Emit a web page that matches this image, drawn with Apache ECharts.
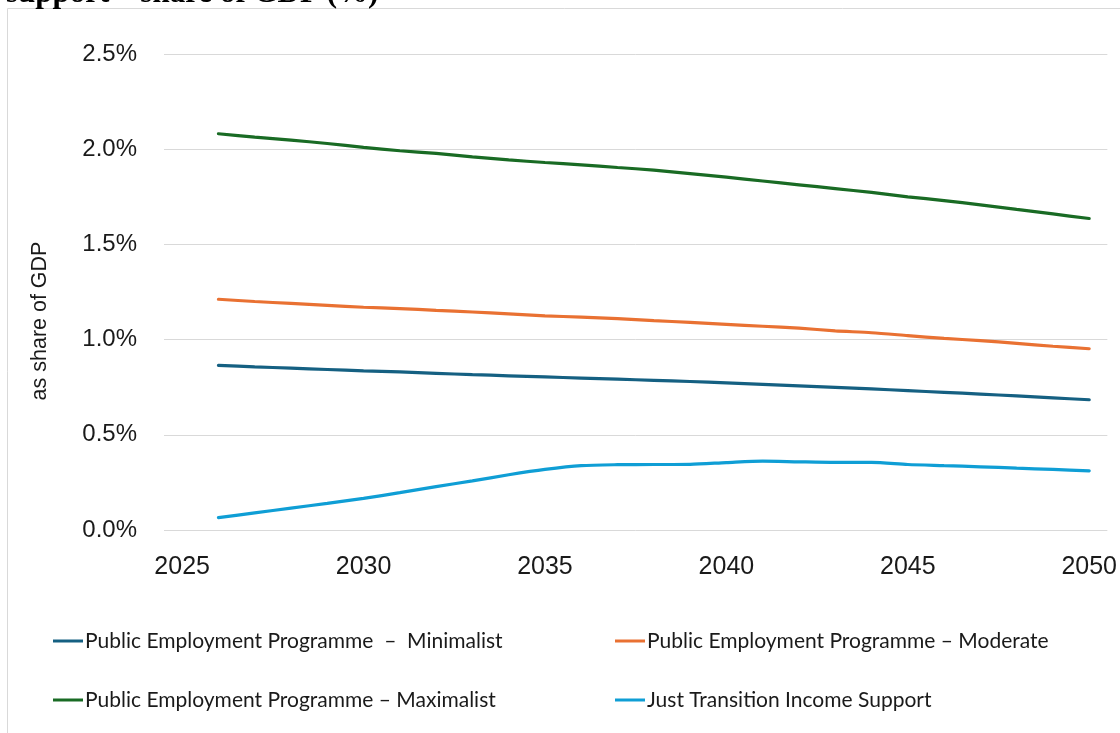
<!DOCTYPE html>
<html>
<head>
<meta charset="utf-8">
<style>
  html, body { margin: 0; padding: 0; background: #ffffff; }
  #chart { width: 1120px; height: 733px; }
</style>
<script src="https://cdn.jsdelivr.net/npm/echarts@6/dist/echarts.min.js"></script>
</head>
<body>
<div id="chart"></div>
<script>
// Years on the category axis (2025 has no value; series start in 2026)
const years = ['2025','2026','2027','2028','2029','2030','2031','2032','2033','2034','2035','2036','2037','2038','2039','2040','2041','2042','2043','2044','2045','2046','2047','2048','2049','2050'];

// Cost as share of GDP (%)
const minimalist = [null, 0.865, 0.857, 0.850, 0.843, 0.836, 0.830, 0.823, 0.816, 0.810, 0.804, 0.798, 0.792, 0.786, 0.780, 0.773, 0.765, 0.757, 0.749, 0.741, 0.732, 0.723, 0.714, 0.704, 0.694, 0.684];
const moderate   = [null, 1.212, 1.200, 1.190, 1.180, 1.170, 1.163, 1.154, 1.145, 1.135, 1.125, 1.118, 1.110, 1.100, 1.090, 1.080, 1.070, 1.060, 1.046, 1.036, 1.021, 1.006, 0.995, 0.980, 0.965, 0.952];
const maximalist = [null, 2.081, 2.063, 2.048, 2.030, 2.010, 1.992, 1.978, 1.960, 1.944, 1.930, 1.918, 1.904, 1.890, 1.872, 1.853, 1.833, 1.813, 1.793, 1.773, 1.750, 1.730, 1.708, 1.684, 1.660, 1.636];
const incomeSupport = [null, 0.065, 0.090, 0.115, 0.140, 0.166, 0.196, 0.228, 0.258, 0.290, 0.318, 0.338, 0.343, 0.344, 0.345, 0.354, 0.362, 0.358, 0.355, 0.355, 0.344, 0.338, 0.332, 0.325, 0.318, 0.311];

const seriesNames = [
  'Public Employment Programme  \u2013  Minimalist',
  'Public Employment Programme \u2013 Moderate',
  'Public Employment Programme \u2013 Maximalist',
  'Just Transition Income Support'
];
const seriesColors = ['#156082', '#E97132', '#196B24', '#0F9ED5'];
const seriesData = [minimalist, moderate, maximalist, incomeSupport];

const axisFont = '"Liberation Sans", Arial, sans-serif';
const legendFont = 'Lato, "Noto Sans", sans-serif';

const chart = echarts.init(document.getElementById('chart'), null, { renderer: 'canvas' });

const legendCommon = {
  orient: 'vertical',
  top: 629,
  padding: 0,
  icon: 'rect',
  itemWidth: 30,
  itemHeight: 3,
  itemGap: 35,
  selectedMode: false,
  textStyle: {
    fontFamily: legendFont,
    fontSize: 21,
    color: '#1a1a1a',
    lineHeight: 24,
    padding: [0, 0, 0, -3]
  }
};

chart.setOption({
  animation: false,
  backgroundColor: '#ffffff',
  grid: { left: 164, right: 12, top: 54, bottom: 203, containLabel: false },
  legend: [
    Object.assign({}, legendCommon, { left: 53, data: [seriesNames[0], seriesNames[2]] }),
    Object.assign({}, legendCommon, { left: 615, data: [seriesNames[1], seriesNames[3]] })
  ],
  xAxis: {
    type: 'category',
    data: years,
    boundaryGap: true,
    axisLine: { show: false },
    axisTick: { show: false },
    axisLabel: {
      interval: 4,
      margin: 25,
      fontFamily: axisFont,
      fontSize: 25,
      color: '#1a1a1a'
    },
    splitLine: { show: false }
  },
  yAxis: {
    type: 'value',
    min: 0,
    max: 2.5,
    interval: 0.5,
    axisLine: { show: false },
    axisTick: { show: false },
    axisLabel: {
      margin: 27,
      fontFamily: axisFont,
      fontSize: 24,
      color: '#1a1a1a',
      formatter: v => v.toFixed(1) + '%'
    },
    splitLine: { lineStyle: { color: '#d9d9d9', width: 1 } }
  },
  series: seriesNames.map((name, i) => ({
    name: name,
    type: 'line',
    data: seriesData[i],
    smooth: 0.25,
    showSymbol: false,
    symbol: 'none',
    color: seriesColors[i],
    lineStyle: { width: 3.2, color: seriesColors[i], cap: 'round' }
  })),
  graphic: [
    {
      type: 'rect',
      silent: true,
      shape: { x: 7.5, y: 8.5, width: 1300, height: 900 },
      style: { fill: 'none', stroke: '#d9d9d9', lineWidth: 1 }
    },
    {
      type: 'text',
      silent: true,
      style: {
        x: 6,
        y: 9,
        text: 'support \u2013 share of GDP (%)',
        font: 'bold 31px "Liberation Serif", "Times New Roman", serif',
        fill: '#000000',
        verticalAlign: 'bottom',
        align: 'left'
      }
    },
    {
      type: 'text',
      silent: true,
      x: 40,
      y: 321,
      rotation: Math.PI / 2,
      style: {
        x: 0,
        y: 0,
        text: 'as share of GDP',
        font: '21.5px "Liberation Sans", Arial, sans-serif',
        fill: '#1a1a1a',
        align: 'center',
        verticalAlign: 'middle'
      }
    }
  ]
});
</script>
</body>
</html>
